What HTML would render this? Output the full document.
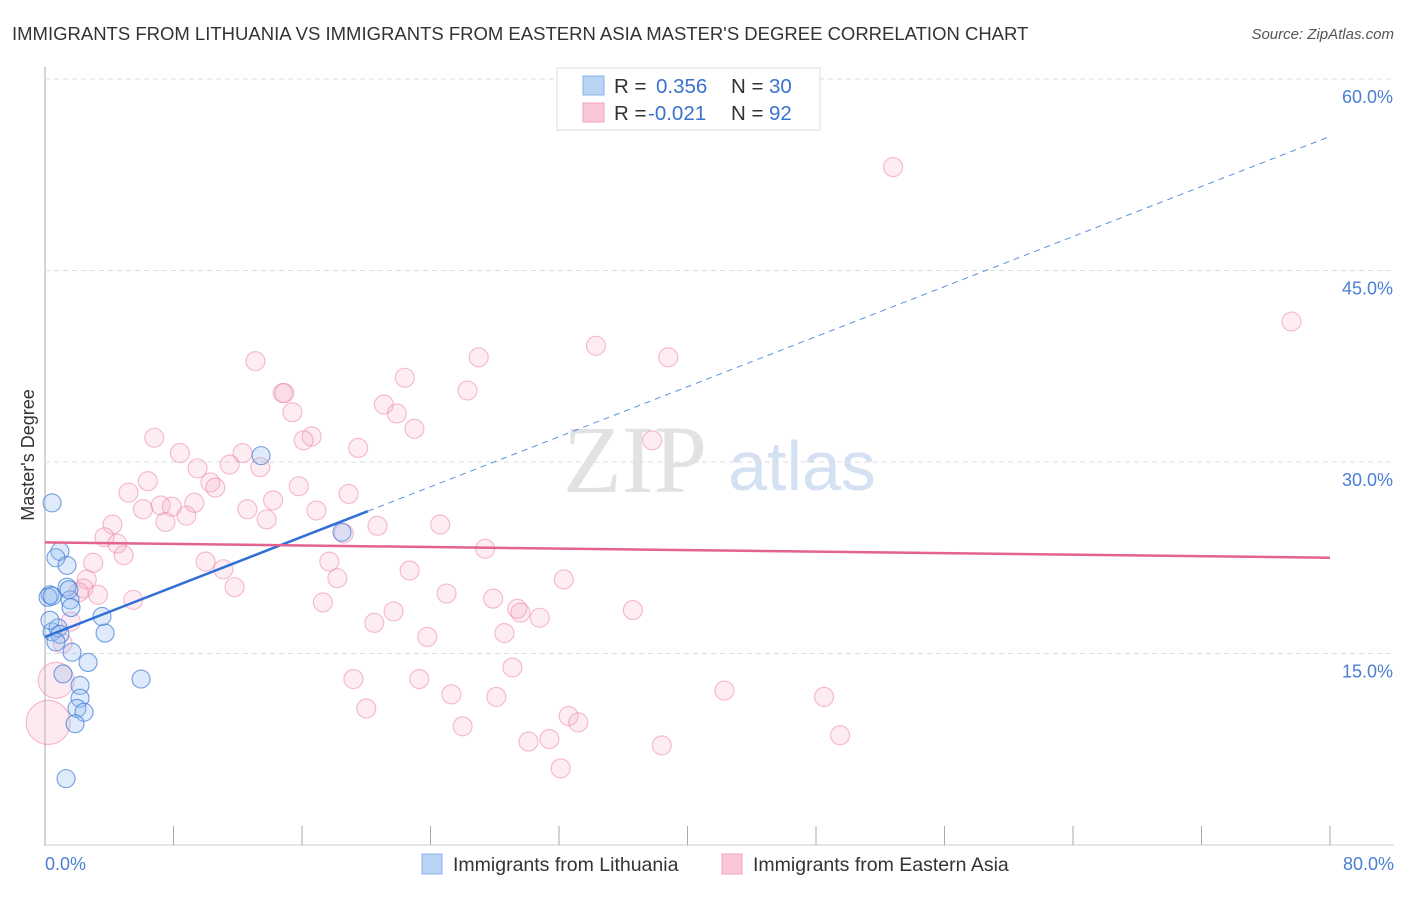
<!DOCTYPE html>
<html><head><meta charset="utf-8"><style>
body{margin:0;background:#fff;font-family:"Liberation Sans",sans-serif;}
svg text{font-family:"Liberation Sans",sans-serif;}
</style></head><body>
<svg id="chart" width="1406" height="892">
<text x="12" y="40" font-size="18.5" fill="#333">IMMIGRANTS FROM LITHUANIA VS IMMIGRANTS FROM EASTERN ASIA MASTER'S DEGREE CORRELATION CHART</text>
<text x="1394" y="39" font-size="15" fill="#555" text-anchor="end" font-style="italic">Source: ZipAtlas.com</text>
<text x="635" y="492" font-size="96" fill="#e2e2e2" font-family="Liberation Serif" text-anchor="middle" style="font-family:'Liberation Serif',serif">ZIP</text>
<text x="802" y="490" font-size="70" fill="#d3e1f3" text-anchor="middle">atlas</text>
<text transform="translate(34,455) rotate(-90)" font-size="18" fill="#333" text-anchor="middle">Master's Degree</text>
<g id="grid"></g><g id="marks"></g><g id="lines"></g>
<g>
<rect x="557" y="68" width="263" height="62" fill="#fff" stroke="#ddd"/>
<rect x="583" y="76" width="21" height="19" fill="#b9d3f5" stroke="#8ab0e8"/>
<rect x="583" y="103" width="21" height="19" fill="#f9c7d5" stroke="#f0a3b9"/>
<text x="614" y="93" font-size="20.5" fill="#333">R = </text><text x="656" y="93" font-size="20.5" fill="#3a72d0">0.356</text>
<text x="731" y="93" font-size="20.5" fill="#333">N = </text><text x="769" y="93" font-size="20.5" fill="#3a72d0">30</text>
<text x="614" y="120" font-size="20.5" fill="#333">R = </text><text x="648" y="120" font-size="20.5" fill="#3a72d0">-0.021</text>
<text x="731" y="120" font-size="20.5" fill="#333">N = </text><text x="769" y="120" font-size="20.5" fill="#3a72d0">92</text>
</g>
<g>
<rect x="422" y="854" width="20" height="20" fill="#b9d3f5" stroke="#8ab0e8"/>
<text x="453" y="871" font-size="19.5" fill="#333">Immigrants from Lithuania</text>
<rect x="722" y="854" width="20" height="20" fill="#f9c7d5" stroke="#f0a3b9"/>
<text x="753" y="871" font-size="19.5" fill="#333">Immigrants from Eastern Asia</text>
</g>
</svg>
<script>
const xTicks=[0,8,16,24,32,40,48,56,64,72,80];
const yTicks=[15,30,45,60];
const blueX=[0.44,0.93,0.68,1.37,0.31,0.19,0.44,1.37,1.56,1.62,1.49,3.55,3.74,0.44,0.81,0.93,0.68,1.68,2.68,1.12,2.18,2.18,1.99,2.43,1.87,1.31,5.98,13.45,18.49,0.31];
const blueY=[26.8,23.0,22.5,21.9,19.6,19.4,19.5,20.2,19.2,18.6,20.0,17.9,16.6,16.7,17.0,16.5,15.9,15.1,14.3,13.4,12.5,11.5,10.7,10.4,9.5,5.2,13.0,30.5,24.5,17.6];
const pinkX=[52.8,77.6,13.1,27.0,34.3,38.8,22.4,14.8,14.9,26.3,15.4,21.1,21.9,23.0,16.6,16.1,19.5,6.8,8.4,12.3,37.8,9.5,11.5,13.4,6.4,10.3,10.6,15.8,5.2,18.9,14.2,9.3,7.2,6.1,7.9,12.6,16.9,8.8,7.5,13.8,4.2,20.7,24.6,18.6,3.7,4.5,4.9,27.4,3.0,10.0,17.7,11.1,22.7,32.3,2.6,18.2,11.8,2.4,2.1,3.3,25.0,27.9,5.5,17.3,29.4,29.6,36.6,21.7,30.8,1.6,20.5,28.6,23.8,1.1,29.1,19.2,23.3,42.3,25.3,48.5,28.1,20.0,32.6,33.2,26.0,30.1,31.4,38.4,49.5,32.1,0.7,0.2];
const pinkY=[53.1,41.0,37.9,38.2,39.1,38.2,36.6,35.4,35.4,35.6,33.9,34.5,33.8,32.6,32.0,31.7,31.1,31.9,30.7,30.7,31.7,29.5,29.8,29.6,28.5,28.4,28.0,28.1,27.6,27.5,27.0,26.8,26.6,26.3,26.5,26.3,26.2,25.8,25.3,25.5,25.1,25.0,25.1,24.4,24.1,23.6,22.7,23.2,22.1,22.2,22.2,21.6,21.5,20.8,20.8,20.9,20.2,20.1,19.8,19.6,19.7,19.3,19.2,19.0,18.5,18.2,18.4,18.3,17.8,17.5,17.4,16.6,16.3,15.8,13.9,13.0,13.0,12.1,11.8,11.6,11.6,10.7,10.1,9.6,9.3,8.1,8.3,7.8,8.6,6.0,12.9,9.6];
const pinkR=[];for(let i=0;i<pinkX.length;i++)pinkR.push(i>=90?(i==90?18:22):9.5);
const blueFit=[16.3,55.5], blueSolidEnd=20.1, pinkFit=[23.7,22.5];
const X=v=>45+v/80*1285, Y=v=>845-v/60*766;
const NS='http://www.w3.org/2000/svg';
function mk(t,a,p){const e=document.createElementNS(NS,t);for(const k in a)e.setAttribute(k,a[k]);p.appendChild(e);return e;}
const grid=document.getElementById('grid'),marks=document.getElementById('marks'),lines=document.getElementById('lines');
mk('line',{x1:45,y1:67,x2:45,y2:846,stroke:'#aaa'},grid);
mk('line',{x1:45,y1:845,x2:1394,y2:845,stroke:'#ccc'},grid);
mk('line',{x1:45,y1:79,x2:1394,y2:79,stroke:'#ddd','stroke-dasharray':'5,4'},grid);
for(const t of yTicks){
 const g=mk('line',{x1:45,y1:Y(t),x2:1394,y2:Y(t),stroke:'#ddd','stroke-dasharray':'5,4'},grid);
 
 
 const tx=mk('text',{x:1393,y:Y(t)+24,'font-size':18,fill:'#4a7fd4','text-anchor':'end'},grid);
 tx.textContent=t.toFixed(1)+'%';
 
 
}
for(const t of xTicks){
 const l=mk('line',{x1:X(t),y1:826,x2:X(t),y2:845,stroke:'#aaa'},grid);
 
 
}
const x0=mk('text',{x:45,y:870,'font-size':18,fill:'#4a7fd4'},grid);x0.textContent=xTicks[0].toFixed(1)+'%';


const x1=mk('text',{x:1394,y:870,'font-size':18,fill:'#4a7fd4','text-anchor':'end'},grid);x1.textContent=xTicks[xTicks.length-1].toFixed(1)+'%';


for(let i=0;i<pinkX.length;i++){
 const big=pinkR[i]>12;
 const c=mk('circle',{cx:X(pinkX[i]),cy:Y(pinkY[i]),r:pinkR[i],fill:big?'rgba(246,170,195,0.25)':'rgba(246,170,195,0.22)',stroke:'rgba(236,130,165,0.55)','stroke-width':1.1},marks);
 
 
}
for(let i=0;i<blueX.length;i++){
 const c=mk('circle',{cx:X(blueX[i]),cy:Y(blueY[i]),r:9,fill:'rgba(150,190,240,0.3)',stroke:'rgba(60,120,215,0.7)','stroke-width':1.1},marks);
 
 
}
const by=v=>blueFit[0]+(blueFit[1]-blueFit[0])*v/80;
const bl=mk('line',{x1:X(0),y1:Y(by(0)),x2:X(blueSolidEnd),y2:Y(by(blueSolidEnd)),stroke:'#2f6fd6','stroke-width':2.5},lines);


const bd=mk('line',{x1:X(blueSolidEnd),y1:Y(by(blueSolidEnd)),x2:X(80),y2:Y(by(80)),stroke:'#5b8fe0','stroke-width':1,'stroke-dasharray':'6,5'},lines);


const pl=mk('line',{x1:X(0),y1:Y(pinkFit[0]),x2:X(80),y2:Y(pinkFit[1]),stroke:'#e4628e','stroke-width':2.5},lines);


</script>
</body></html>
